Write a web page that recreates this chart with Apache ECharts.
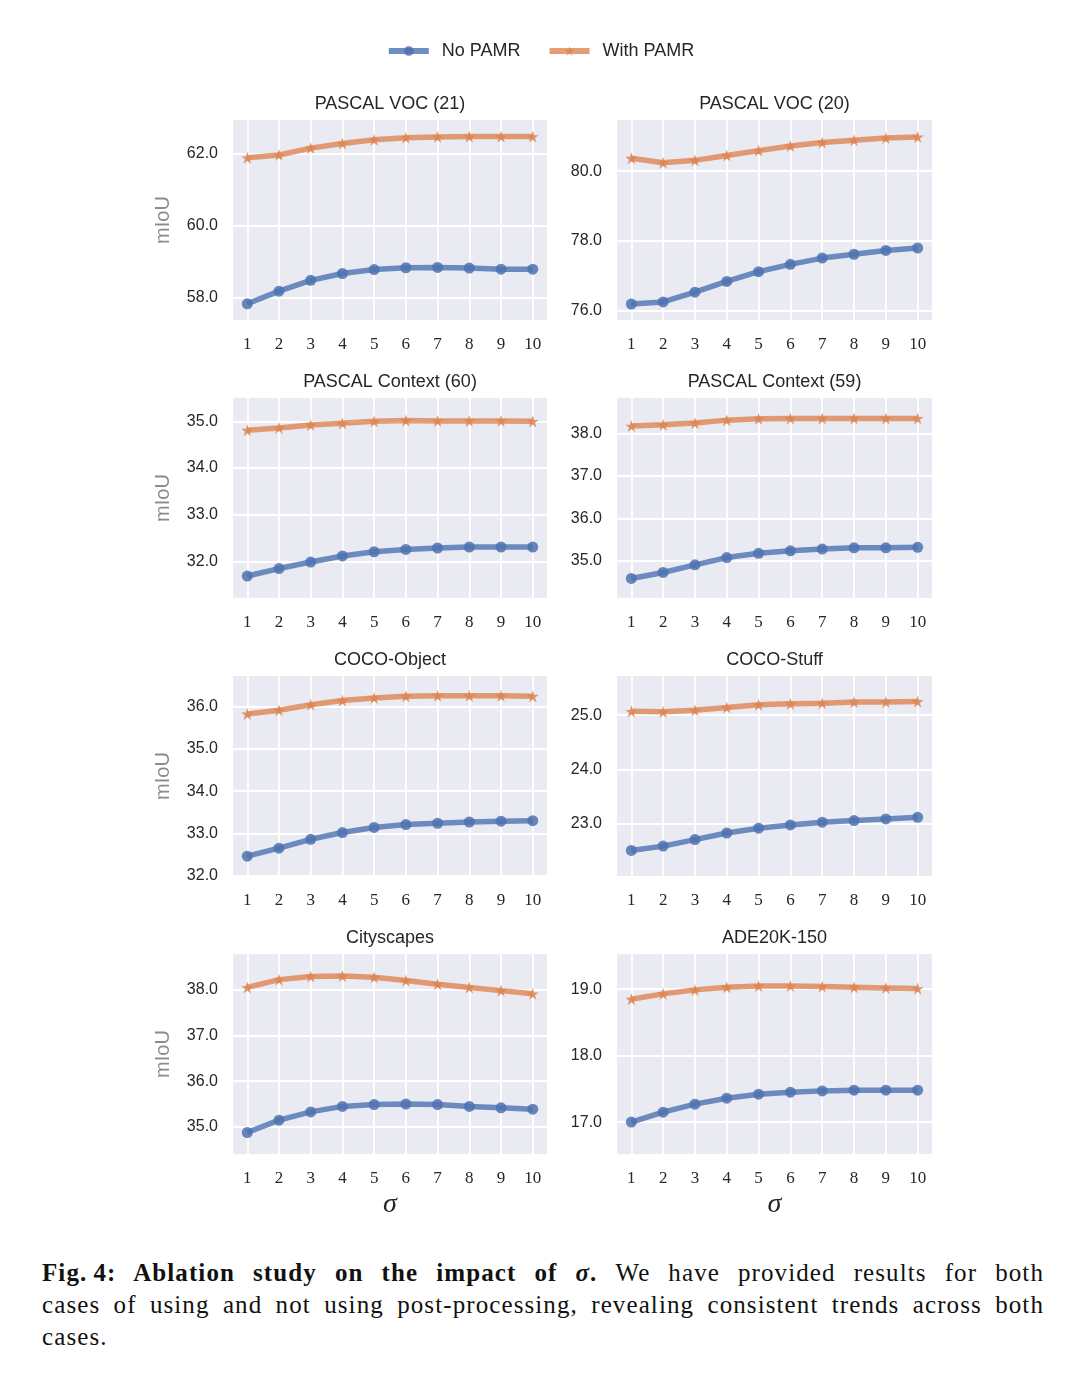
<!DOCTYPE html>
<html>
<head>
<meta charset="utf-8">
<script src="https://cdn.jsdelivr.net/npm/echarts@6/dist/echarts.min.js"></script>
<style>
html,body{margin:0;padding:0;background:#fff;}
#chart{width:1080px;height:1240px;}
#caption{position:absolute;left:42px;top:1257px;width:1002px;font-family:"Liberation Serif","DejaVu Serif",serif;font-size:25px;line-height:32px;color:#111;letter-spacing:1.1px;}
#caption div{text-align:justify;text-align-last:justify;white-space:nowrap;}
#caption div.last{text-align-last:left;}
</style>
</head>
<body>
<div id="chart"></div>
<div id="caption">
<div><b>Fig.&#8201;4: Ablation study on the impact of <i>σ</i>.</b> We have provided results for both</div>
<div>cases of using and not using post-processing, revealing consistent trends across both</div>
<div class="last">cases.</div>
</div>
<script>
const sigma = [1, 2, 3, 4, 5, 6, 7, 8, 9, 10];
const seriesNames = ['No PAMR', 'With PAMR'];
const panelTitles = ['PASCAL VOC (21)', 'PASCAL VOC (20)', 'PASCAL Context (60)', 'PASCAL Context (59)', 'COCO-Object', 'COCO-Stuff', 'Cityscapes', 'ADE20K-150'];

const noPamrVoc21 = [57.83, 58.18, 58.48, 58.67, 58.78, 58.83, 58.84, 58.82, 58.79, 58.79];
const withPamrVoc21 = [61.88, 61.96, 62.15, 62.28, 62.38, 62.44, 62.46, 62.47, 62.47, 62.47];
const noPamrVoc20 = [76.18, 76.24, 76.52, 76.83, 77.11, 77.32, 77.50, 77.61, 77.72, 77.79];
const withPamrVoc20 = [80.37, 80.24, 80.31, 80.45, 80.59, 80.72, 80.82, 80.89, 80.95, 80.98];
const noPamrCtx60 = [31.69, 31.85, 31.99, 32.12, 32.21, 32.26, 32.29, 32.31, 32.31, 32.31];
const withPamrCtx60 = [34.81, 34.86, 34.92, 34.96, 35.00, 35.02, 35.01, 35.01, 35.01, 35.00];
const noPamrCtx59 = [34.59, 34.73, 34.91, 35.08, 35.18, 35.24, 35.28, 35.31, 35.31, 35.32];
const withPamrCtx59 = [38.17, 38.20, 38.24, 38.31, 38.34, 38.35, 38.35, 38.35, 38.35, 38.35];
const noPamrCocoObj = [32.46, 32.65, 32.86, 33.02, 33.14, 33.21, 33.24, 33.27, 33.29, 33.30];
const withPamrCocoObj = [35.83, 35.92, 36.05, 36.15, 36.21, 36.25, 36.26, 36.26, 36.26, 36.25];
const noPamrCocoStuff = [22.51, 22.59, 22.71, 22.83, 22.92, 22.98, 23.03, 23.06, 23.09, 23.12];
const withPamrCocoStuff = [25.07, 25.06, 25.09, 25.14, 25.19, 25.21, 25.22, 25.24, 25.24, 25.25];
const noPamrCity = [34.88, 35.15, 35.33, 35.45, 35.49, 35.50, 35.49, 35.45, 35.42, 35.39];
const withPamrCity = [38.05, 38.22, 38.29, 38.30, 38.27, 38.20, 38.12, 38.05, 37.98, 37.91];
const noPamrAde = [17.00, 17.15, 17.27, 17.36, 17.42, 17.45, 17.47, 17.48, 17.48, 17.48];
const withPamrAde = [18.85, 18.93, 18.99, 19.03, 19.05, 19.05, 19.04, 19.03, 19.02, 19.01];

const yTicksVoc21 = [58, 60, 62];
const yTicksVoc20 = [76, 78, 80];
const yTicksCtx60 = [32, 33, 34, 35];
const yTicksCtx59 = [35, 36, 37, 38];
const yTicksCocoObj = [32, 33, 34, 35, 36];
const yTicksCocoStuff = [23, 24, 25];
const yTicksCity = [35, 36, 37, 38];
const yTicksAde = [17, 18, 19];

const yRangeVoc21 = [57.38, 62.93];
const yRangeVoc20 = [75.72, 81.47];
const yRangeCtx60 = [31.22, 35.50];
const yRangeCtx59 = [34.13, 38.83];
const yRangeCocoObj = [31.99, 36.73];
const yRangeCocoStuff = [22.04, 25.72];
const yRangeCity = [34.41, 38.78];
const yRangeAde = [16.52, 19.53];

const panels = [
  [noPamrVoc21, withPamrVoc21, yTicksVoc21, yRangeVoc21],
  [noPamrVoc20, withPamrVoc20, yTicksVoc20, yRangeVoc20],
  [noPamrCtx60, withPamrCtx60, yTicksCtx60, yRangeCtx60],
  [noPamrCtx59, withPamrCtx59, yTicksCtx59, yRangeCtx59],
  [noPamrCocoObj, withPamrCocoObj, yTicksCocoObj, yRangeCocoObj],
  [noPamrCocoStuff, withPamrCocoStuff, yTicksCocoStuff, yRangeCocoStuff],
  [noPamrCity, withPamrCity, yTicksCity, yRangeCity],
  [noPamrAde, withPamrAde, yTicksAde, yRangeAde]
];

const BLUE = '#4C72B0', ORANGE = '#DD8452';
const STAR = 'path://M50,0 L61.2,34.5 L97.6,34.5 L68.2,55.9 L79.4,90.5 L50,69.1 L20.6,90.5 L31.8,55.9 L2.4,34.5 L38.8,34.5 Z';
const SANS = '"Liberation Sans","DejaVu Sans",sans-serif';
const SERIF = '"Liberation Serif","DejaVu Serif",serif';
const TXT = '#262626';

const colLeft = [233, 617];
const colWidth = [314, 315];
const rowTop = [120, 398, 676, 954];
const plotH = 200;

const grids = [], xAxes = [], yAxes = [], series = [], graphics = [];
panels.forEach((p, i) => {
  const col = i % 2, row = Math.floor(i / 2);
  const left = colLeft[col], top = rowTop[row], w = colWidth[col];
  grids.push({left: left, top: top, width: w, height: plotH, show: true, backgroundColor: '#EAEAF2', borderWidth: 0, containLabel: false});
  xAxes.push({
    type: 'value', gridIndex: i, min: 0.55, max: 10.45,
    axisLine: {show: false},
    axisTick: {show: false, customValues: sigma},
    axisLabel: {customValues: sigma, margin: 16, fontFamily: SERIF, fontSize: 17, color: TXT},
    splitLine: {show: true, lineStyle: {color: '#ffffff', width: 1.8}}
  });
  yAxes.push({
    type: 'value', gridIndex: i, min: p[3][0], max: p[3][1],
    axisLine: {show: false},
    axisTick: {show: false, customValues: p[2]},
    axisLabel: {customValues: p[2], margin: 15, fontFamily: SANS, fontSize: 16, color: TXT, formatter: v => v.toFixed(1)},
    splitLine: {show: true, lineStyle: {color: '#ffffff', width: 1.8}}
  });
  [p[0], p[1]].forEach((vals, k) => {
    const c = k === 0 ? BLUE : ORANGE;
    series.push({
      name: seriesNames[k], type: 'line', xAxisIndex: i, yAxisIndex: i,
      data: sigma.map((s, j) => [s, vals[j]]),
      symbol: k === 0 ? 'circle' : STAR,
      symbolSize: k === 0 ? 11 : 12,
      showSymbol: true,
      lineStyle: {color: c, width: 5.5, opacity: 0.8},
      itemStyle: {color: c, opacity: 0.85},
      emphasis: {disabled: true},
      animation: false,
      z: k === 0 ? 2 : 3
    });
  });
  graphics.push({type: 'text', x: left + w / 2, y: top - 16, style: {text: panelTitles[i], fontFamily: SANS, fontSize: 18, fill: TXT, textAlign: 'center', textVerticalAlign: 'middle'}});
  if (col === 0) {
    graphics.push({type: 'text', x: 163, y: top + plotH / 2, rotation: Math.PI / 2, style: {text: 'mIoU', fontFamily: SANS, fontSize: 20, fill: '#8c8c8c', textAlign: 'center', textVerticalAlign: 'middle'}});
  }
  if (row === 3) {
    graphics.push({type: 'text', x: left + w / 2, y: top + plotH + 51, style: {text: 'σ', fontFamily: SERIF, fontStyle: 'italic', fontSize: 28, fill: TXT, textAlign: 'center', textVerticalAlign: 'middle'}});
  }
});

const chart = echarts.init(document.getElementById('chart'), null, {renderer: 'canvas'});
chart.setOption({
  animation: false,
  backgroundColor: '#ffffff',
  legend: {
    data: seriesNames, top: 37, left: 'center', itemWidth: 40, itemHeight: 12, itemGap: 26,
    lineStyle: {width: 6, opacity: 0.8},
    textStyle: {fontFamily: SANS, fontSize: 18, color: TXT, padding: [0, 0, 0, 8]}
  },
  grid: grids, xAxis: xAxes, yAxis: yAxes, series: series, graphic: graphics
});
</script>
</body>
</html>
